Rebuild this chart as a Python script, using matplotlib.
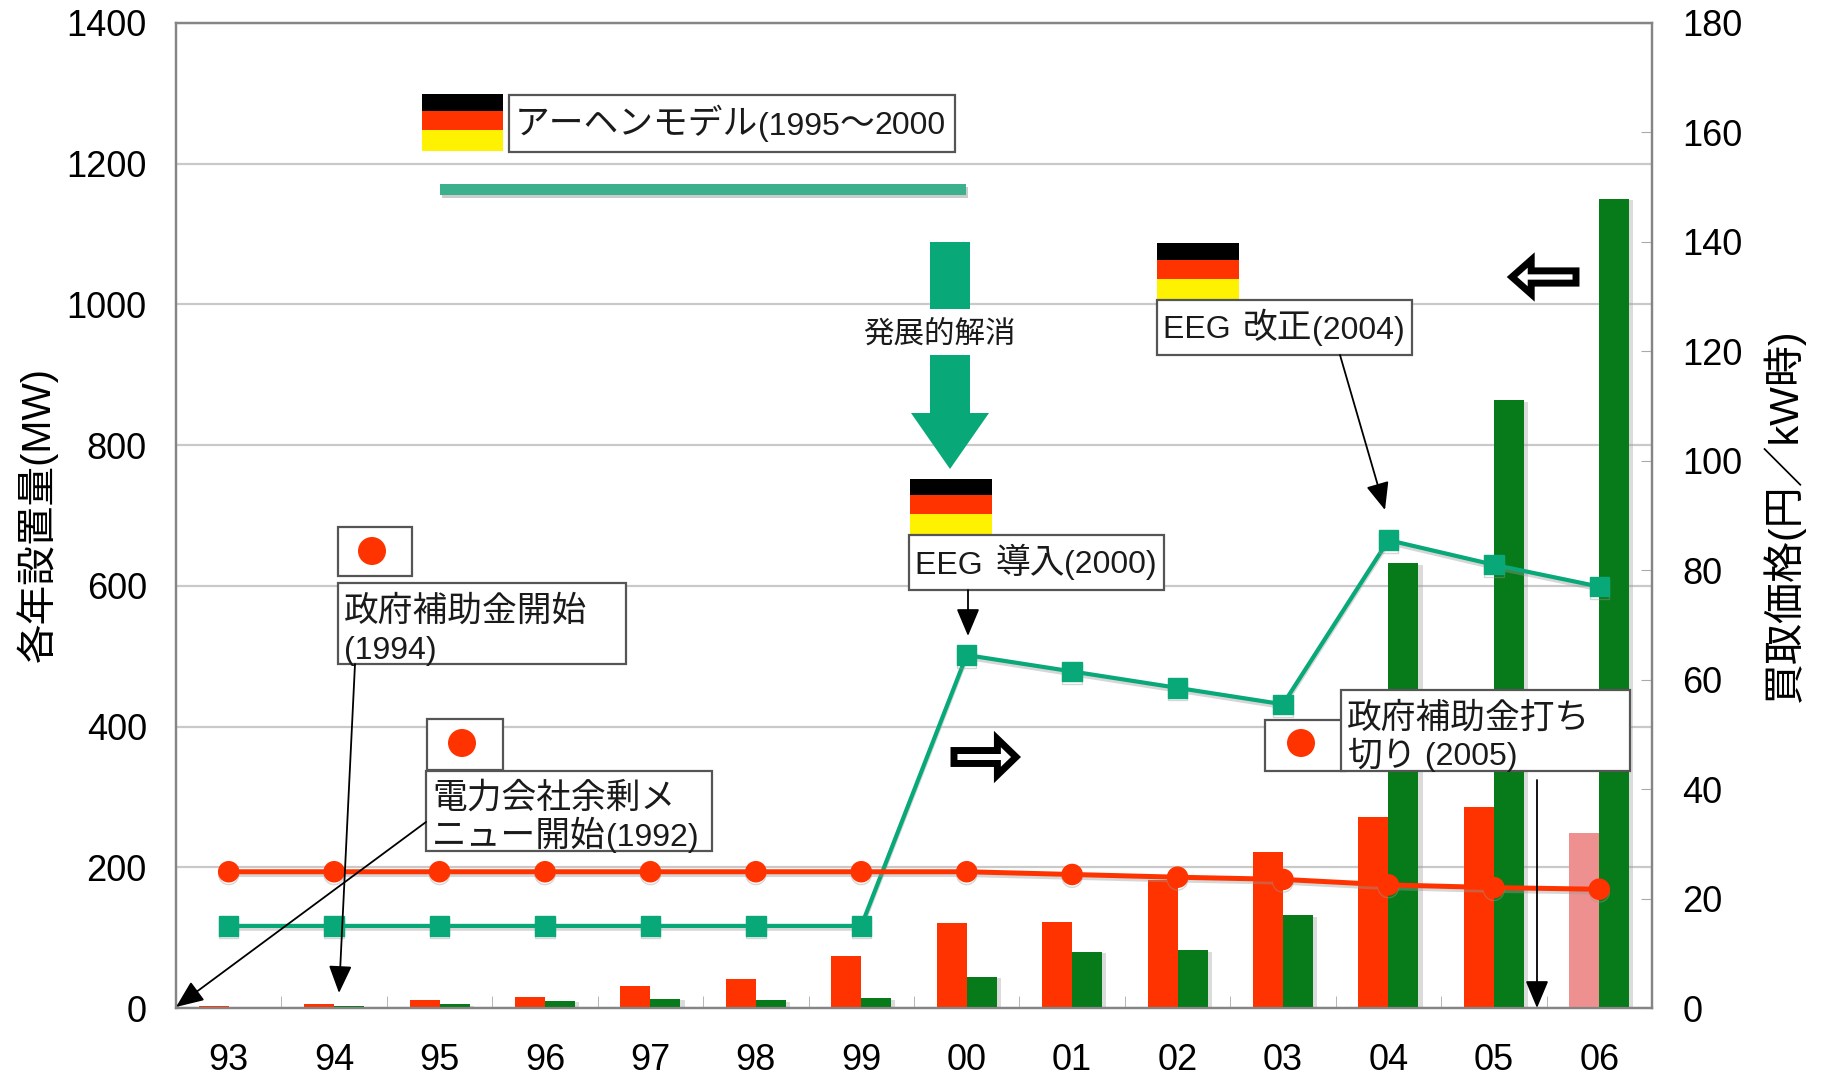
import re
import matplotlib
matplotlib.use("Agg")
import matplotlib.pyplot as plt
from matplotlib.patches import Rectangle, Circle, Polygon
import matplotlib.patheffects as pe

plt.rcParams['font.family'] = ['Liberation Sans', 'Noto Sans CJK JP', 'DejaVu Sans']

years = ["93", "94", "95", "96", "97", "98", "99", "00", "01", "02", "03", "04", "05", "06"]
japan_mw = [3, 5, 12, 16, 31, 41, 74, 121, 122, 182, 222, 272, 285, 249]
germany_mw = [2, 3, 5, 10, 13, 11, 14, 44, 80, 82, 132, 632, 864, 1150]
japan_price = [24.9, 24.9, 24.9, 24.9, 24.9, 24.9, 24.9, 24.9, 24.4, 23.9, 23.5, 22.5, 22, 21.7]
germany_price = [15, 15, 15, 15, 15, 15, 15, 64.5, 61.5, 58.5, 55.5, 85.5, 81, 77]

RED = "#ff3300"
PINK = "#ee9090"
GREEN = "#077a1a"
TEAL = "#08a878"
W, H = 1825, 1077
L, R, T, B = 176, 1652, 23, 1008

fig = plt.figure(figsize=(W / 100, H / 100), dpi=100)
ax = fig.add_axes([L / W, 1 - B / H, (R - L) / W, (B - T) / H])
ax2 = ax.twinx()

xs = list(range(len(years)))
bar_w = 0.285
red_colors = [RED] * 13 + [PINK]
shadow = [pe.SimplePatchShadow(offset=(3, -1), shadow_rgbFace="#999999", alpha=0.35), pe.Normal()]
ax.bar([x - bar_w / 2 for x in xs], japan_mw, bar_w, color=red_colors, zorder=3)
ax.bar([x + bar_w / 2 for x in xs], germany_mw, bar_w, color=GREEN, zorder=3, path_effects=shadow)

ax.set_xlim(-0.5, len(years) - 0.5)
ax.set_ylim(0, 1400)
ax.set_yticks(range(0, 1401, 200))
ax.grid(axis="y", color="#c9c9c9", lw=1.6, zorder=0)
ax.set_xticks(xs)
ax.set_xticklabels(years)
ax.set_xticks([x - 0.5 for x in xs[1:]], minor=True)
ax.tick_params(axis="x", which="major", length=0, labelsize=26, pad=25)
ax.tick_params(axis="x", which="minor", length=9, direction="in", color="#aaaaaa")
ax.tick_params(axis="y", length=0, labelsize=26, pad=21)

ax2.set_ylim(0, 180)
ax2.set_yticks(range(0, 181, 20))
ax2.tick_params(axis="y", length=8, direction="in", color="#aaaaaa", labelsize=26, pad=22)
line_shadow = [pe.SimpleLineShadow(offset=(0, -2), shadow_color="#999999", alpha=0.4), pe.Normal()]
ax2.plot(xs, germany_price, color=TEAL, lw=3, marker="s", ms=14, zorder=4, path_effects=line_shadow)
ax2.plot(xs, japan_price, color=RED, lw=3.6, marker="o", ms=14.5, zorder=5, path_effects=line_shadow)

for a in (ax, ax2):
    for s in a.spines.values():
        s.set_color("#858585")
        s.set_linewidth(1.6)

# everything below sits on a full figure overlay in image pixels
top = fig.add_axes([0, 0, 1, 1], facecolor="none")
top.set_xlim(0, W)
top.set_ylim(H, 0)
top.axis("off")

top.text(37, 515, "各年設置量(MW)", rotation=90, ha="center", va="center", fontsize=28.5)
top.text(1784, 515, "買取価格(円／kW時)", rotation=90, ha="center", va="center", fontsize=29.5)

renderer = fig.canvas.get_renderer()


def runs(x, y, s, latin=23, cjk=25):
    # latin digits are narrower than the kanji in the original, so size them apart
    for part in re.findall(r"[ -~]+|[^ -~]+", s):
        size = latin if part[0].isascii() else cjk
        t = top.text(x, y + 11, part, ha="left", va="baseline", fontsize=size, color="#1a1a1a")
        # trailing spaces are not measured
        pad = (len(part) - len(part.rstrip())) * size * 0.15
        x = t.get_window_extent(renderer).x1 + pad


def de_flag(x0, x1, y0, y1):
    h = (y1 - y0) / 3.4
    top.add_patch(Rectangle((x0, y0), x1 - x0, h * 1.0, color="black", lw=0))
    top.add_patch(Rectangle((x0, y0 + h), x1 - x0, h * 1.15, color=RED, lw=0))
    top.add_patch(Rectangle((x0, y0 + h * 2.15), x1 - x0, h * 1.25, color="#fff200", lw=0))


def jp_flag(x0, x1, y0, y1, cx, cy):
    top.add_patch(Rectangle((x0, y0), x1 - x0, y1 - y0, fc="white", ec="#555555", lw=1.6))
    top.add_patch(Circle((cx, cy), 14, color=RED, lw=0))


def box(x0, x1, y0, y1, lines):
    top.add_patch(Rectangle((x0, y0), x1 - x0, y1 - y0, fc="white", ec="#555555", lw=1.6))
    mid = (y0 + y1) / 2
    if len(lines) == 1:
        runs(x0 + 6, mid, lines[0])
    else:
        runs(x0 + 6, mid + 5 - 19, lines[0])
        runs(x0 + 6, mid + 5 + 19, lines[1])


def arrow(x0, y0, x1, y1):
    top.annotate("", xy=(x1, y1), xytext=(x0, y0),
                 arrowprops=dict(arrowstyle="-|>,head_width=0.42,head_length=1.0", color="black", lw=1.3,
                                 shrinkA=0, shrinkB=0, mutation_scale=17))


def hollow(x0, x1, ymid, half, right=True):
    d = 1 if right else -1
    start, end = (x0, x1) if right else (x1, x0)
    neck = end - d * (x1 - x0) * 0.3
    pts = [(start, ymid - half * 0.36), (neck, ymid - half * 0.36), (neck, ymid - half), (end, ymid),
           (neck, ymid + half), (neck, ymid + half * 0.36), (start, ymid + half * 0.36)]
    top.add_patch(Polygon(pts, closed=True, fc="white", ec="black", lw=5, joinstyle="miter"))


# Aachen model
de_flag(422, 503, 94, 151)
box(509, 955, 95, 152, ["アーヘンモデル(1995〜2000"])
top.add_patch(Rectangle((442, 187), 526, 11, color="#999999", alpha=0.5, lw=0))
top.add_patch(Rectangle((440, 184), 526, 11, color="#3cb08c", lw=0))

# big arrow
top.add_patch(Rectangle((930, 242), 40, 67, color=TEAL, lw=0))
top.add_patch(Polygon([(930, 355), (970, 355), (970, 413), (989, 413), (950, 469), (911, 413), (930, 413)],
                      closed=True, color=TEAL, lw=0))
top.text(939, 335, "発展的解消", ha="center", va="center", fontsize=22, color="#1a1a1a")

de_flag(910, 992, 479, 534)
box(909, 1164, 535, 590, ["EEG 導入(2000)"])
arrow(968, 590, 968, 636)

de_flag(1157, 1239, 243, 300)
box(1157, 1412, 300, 355, ["EEG 改正(2004)"])
arrow(1340, 355, 1385, 510)

hollow(1512, 1576, 277, 17, right=False)
hollow(954, 1016, 757, 18, right=True)

jp_flag(338, 412, 527, 576, 372, 551)
box(338, 626, 583, 664, ["政府補助金開始", "(1994)"])
arrow(355, 664, 339, 993)

jp_flag(427, 503, 719, 770, 462, 743)
box(426, 712, 771, 851, ["電力会社余剰メ", "ニュー開始(1992)"])
arrow(426, 822, 176, 1007)

jp_flag(1265, 1345, 720, 771, 1301, 743)
box(1341, 1630, 690, 771, ["政府補助金打ち", "切り (2005)"])
arrow(1537, 780, 1537, 1008)

fig.savefig("out.png", dpi=100, facecolor="white")
